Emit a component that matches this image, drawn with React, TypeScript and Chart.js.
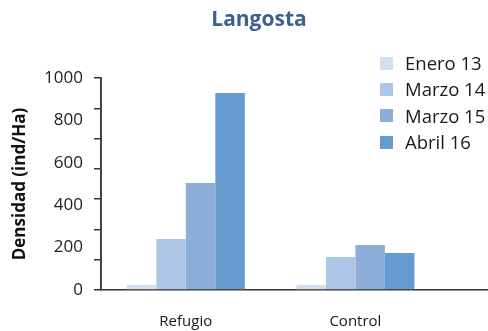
import React, { useEffect, useRef } from 'react';
import { Chart, registerables } from 'chart.js';

Chart.register(...registerables);

const chartTitle = 'Langosta';
const yAxisTitle = 'Densidad (ind/Ha)';
const categories = ['Refugio', 'Control'];
const seriesNames = ['Enero 13', 'Marzo 14', 'Marzo 15', 'Abril 16'];
const enero13 = [24, 24];
const marzo14 = [240, 156];
const marzo15 = [505, 212];
const abril16 = [929, 175];
const seriesValues = [enero13, marzo14, marzo15, abril16];
const seriesColors = ['#d2dff0', '#aec6e6', '#8caed9', '#659bce'];
const yTickLabels = [0, 200, 400, 600, 800, 1000];
const yMarkDivisions = 7;
const yMax = 1000;
const xMax = 1.776;

const FONT = "'Open Sans', 'DejaVu Sans', sans-serif";

export default function App() {
  const canvasRef = useRef<HTMLCanvasElement | null>(null);

  useEffect(() => {
    const canvas = canvasRef.current;
    if (!canvas) return;
    const datasets = seriesNames.map((name, i) => ({
      label: name,
      data: categories.map((_, c) => ({ x: c, y: seriesValues[i][c] })),
      backgroundColor: seriesColors[i],
      borderWidth: 0,
      barPercentage: 1,
      categoryPercentage: 0.696,
    }));
    const chart = new Chart(canvas, {
      type: 'bar',
      data: { datasets },
      options: {
        animation: false,
        responsive: false,
        layout: { padding: { top: 78, right: 1, bottom: 0, left: 0 } },
        plugins: {
          legend: { display: false },
          title: { display: false },
          tooltip: { enabled: false },
        },
        scales: {
          x: {
            type: 'linear',
            offset: false,
            min: -0.5,
            max: xMax,
            afterBuildTicks: (scale: any) => {
              scale.ticks = categories.map((_, i) => ({ value: i }));
            },
            afterFit: (scale: any) => {
              scale.height = 41;
            },
            ticks: {
              callback: (v: any) => categories[v as number] ?? '',
              font: { family: FONT, size: 15 },
              color: '#1a1a1a',
              padding: 23,
              maxRotation: 0,
              autoSkip: false,
            },
            grid: { display: false, drawTicks: false },
            border: { display: true, color: '#333', width: 1.5 },
          },
          y: {
            type: 'linear',
            position: 'left',
            weight: 0,
            min: 0,
            max: yMax,
            afterBuildTicks: (scale: any) => {
              const t = [];
              for (let k = 0; k <= yMarkDivisions; k++) t.push({ value: (k * yMax) / yMarkDivisions });
              scale.ticks = t;
            },
            afterFit: (scale: any) => {
              scale.width = 7;
            },
            ticks: { display: false },
            grid: {
              display: true,
              drawOnChartArea: false,
              drawTicks: true,
              tickLength: 7,
              color: '#333',
              lineWidth: 1.5,
            },
            border: { display: true, color: '#444', width: 2 },
          },
          y2: {
            type: 'linear',
            position: 'left',
            weight: 1,
            min: 0,
            max: yMax,
            afterBuildTicks: (scale: any) => {
              scale.ticks = yTickLabels.map((v) => ({ value: v }));
            },
            afterFit: (scale: any) => {
              scale.width = 94;
            },
            ticks: {
              callback: (v: any) => String(v),
              font: { family: FONT, size: 17 },
              color: '#222',
              padding: 11,
            },
            grid: { display: false, drawTicks: false },
            border: { display: false },
            title: {
              display: true,
              text: yAxisTitle,
              font: { family: FONT, size: 17, weight: 'bold' },
              color: '#111',
              padding: { top: 10, bottom: 0 },
            },
          },
        },
      } as any,
    });
    return () => chart.destroy();
  }, []);

  return (
    <div style={{ position: 'absolute', left: 0, top: 0, width: 488, height: 331, background: '#fff' }}>
      <canvas ref={canvasRef} width={488} height={331} style={{ position: 'absolute', left: 0, top: 0 }} />
      <div
        style={{
          position: 'absolute',
          left: 0,
          width: 518,
          top: 8,
          textAlign: 'center',
          fontFamily: FONT,
          fontWeight: 'bold',
          fontSize: 21,
          lineHeight: '21px',
          color: '#3d5e91',
        }}
      >
        {chartTitle}
      </div>
      <div style={{ position: 'absolute', left: 380, top: 50 }}>
        {seriesNames.map((name, i) => (
          <div
            key={name}
            style={{ display: 'flex', alignItems: 'center', height: 26.3, fontFamily: FONT, fontSize: 18.5, color: '#1a1a1a' }}
          >
            <span style={{ display: 'inline-block', width: 13, height: 13, background: seriesColors[i], marginRight: 12 }} />
            <span style={{ lineHeight: '26.3px', whiteSpace: 'nowrap' }}>{name}</span>
          </div>
        ))}
      </div>
    </div>
  );
}
